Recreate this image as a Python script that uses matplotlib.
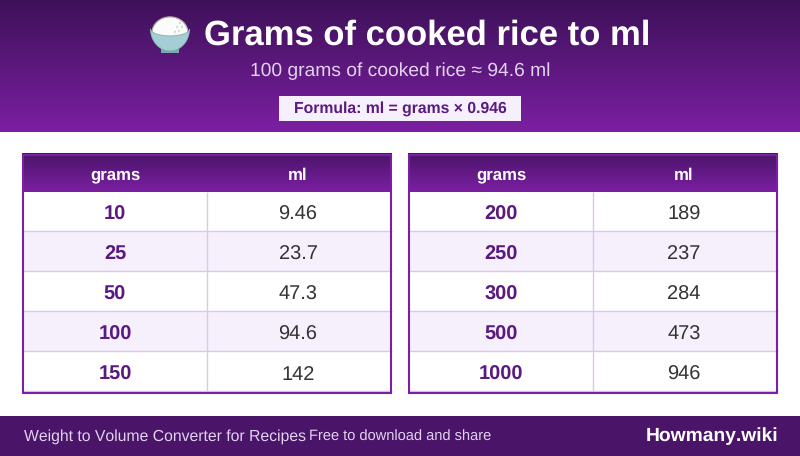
import numpy as np
import matplotlib
matplotlib.use('Agg')
import matplotlib.pyplot as plt
from matplotlib.colors import LinearSegmentedColormap
from matplotlib.patches import Rectangle, Ellipse, Polygon, Circle

title = "Grams of cooked rice to ml"
subtitle = "100 grams of cooked rice \u2248 94.6 ml"
formula = "Formula: ml = grams \u00d7 0.946"
footer_left = "Weight to Volume Converter for Recipes"
footer_mid = "Free to download and share"
footer_right = "Howmany.wiki"
col_names = ["grams", "ml"]

grams_left = ["10", "25", "50", "100", "150"]
ml_left = ["9.46", "23.7", "47.3", "94.6", "142"]
grams_right = ["200", "250", "300", "500", "1000"]
ml_right = ["189", "237", "284", "473", "946"]

DARK = "#3d1158"
MID = "#4a1569"
PURPLE = "#7b1fa2"
TEXT_PURPLE = "#5b1a80"
LIGHT = "#f5f0fb"
LINE = "#dcc6ee"

plt.rcParams['font.family'] = ['Liberation Sans', 'DejaVu Sans']
plt.rcParams['text.kerning_factor'] = 6
plt.rcParams['text.hinting'] = 'no_hinting'


def px(size):
    # css pixels to points at dpi 100
    return size * 0.72


def gradient(ax, x0, x1, y0, y1, c0, c1):
    cmap = LinearSegmentedColormap.from_list("g", [c0, c1])
    g = np.linspace(0, 1, 256).reshape(-1, 1)
    ax.imshow(g, cmap=cmap, extent=(x0, x1, y1, y0), aspect='auto', zorder=1,
              interpolation='bilinear')


def draw_table(ax, x0, grams, ml):
    width = 370
    split = x0 + 185
    top = 154
    head = 38
    row_h = 40
    bottom = top + head + row_h * len(grams) + 2
    gradient(ax, x0, x0 + width, top, top + head, MID, PURPLE)
    ax.text(x0 + 93, top + 25.7, col_names[0], color="white", fontsize=px(16.8),
            fontweight='bold', ha='center', va='baseline', zorder=4)
    ax.text(split + 91, top + 25.7, col_names[1], color="white", fontsize=px(16.8),
            fontweight='bold', ha='center', va='baseline', zorder=4)
    for i in range(len(grams)):
        y = top + head + i * row_h
        ax.add_patch(Rectangle((x0, y), width, row_h, zorder=2, lw=0,
                               fc=LIGHT if i % 2 else "white"))
        ax.plot([x0, x0 + width], [y + row_h - 0.5] * 2, color=LINE, lw=1.0, zorder=3,
                solid_capstyle='butt')
        ax.plot([split, split], [y, y + row_h], color=LINE, lw=1.0, zorder=3,
                solid_capstyle='butt')
        ax.text(x0 + 93, y + 27.5, grams[i], color=TEXT_PURPLE, fontsize=px(20),
                fontweight='bold', ha='center', va='baseline', zorder=4)
        ax.text(split + 91, y + 27.5, ml[i], color="#333333", fontsize=px(20),
                ha='center', va='baseline', zorder=4)
    # outer border
    ax.add_patch(Rectangle((x0 + 1, top + 1), width - 2, bottom - top - 2, fill=False,
                           ec=PURPLE, lw=1.5, zorder=5))


def draw_bowl(ax):
    # rice bowl emoji, the rim sags in front so more rice shows
    ax.add_patch(Ellipse((170, 33), 36, 32, fc="#fbfbfb", ec="#b5ad9e", lw=0.9, zorder=4))
    t = np.linspace(0, np.pi, 40)
    ax.add_patch(Rectangle((161, 48), 18, 5.5, fc="#79a8ad", lw=0, zorder=4))
    lower = np.column_stack([170 + 19.5 * np.cos(t), 29 + 22 * np.sin(t)])
    upper = np.column_stack([170 + 19.5 * np.cos(t[::-1]), 29 + 7 * np.sin(t[::-1])])
    ax.add_patch(Polygon(np.vstack([lower, upper]), fc="#a5cdd4", ec="#7fb0b5", lw=0.6, zorder=5))
    for cx, cy in [(180, 23), (177, 27), (182, 27), (175, 32), (179, 31)]:
        ax.add_patch(Ellipse((cx, cy), 1.6, 2.8, angle=30, fc="#cfcfcf", lw=0, zorder=6))


# 4.561 so the canvas does not floor down to 455 px
fig = plt.figure(figsize=(8, 4.561), dpi=100)
ax = fig.add_axes([0, 0, 1, 1])

# header band
gradient(ax, 0, 800, 0, 132, DARK, PURPLE)
draw_bowl(ax)
ax.text(427.5, 45, title, color="white", fontsize=px(34.7), fontweight='bold',
        ha='center', va='baseline', zorder=4)
ax.text(400, 76, subtitle, color="#e1d2ee", fontsize=px(19.3), ha='center', va='baseline', zorder=4)
ax.add_patch(Rectangle((279, 96), 242, 25, fc=LIGHT, lw=0, zorder=3))
ax.text(400, 113, formula, color=TEXT_PURPLE, fontsize=px(15.7), fontweight='bold',
        ha='center', va='baseline', zorder=4)

draw_table(ax, 22, grams_left, ml_left)
draw_table(ax, 408, grams_right, ml_right)

# footer band
ax.add_patch(Rectangle((0, 416), 800, 40, fc=MID, lw=0, zorder=2))
ax.text(24, 441, footer_left, color="#e1d2ee", fontsize=px(15.8), ha='left', va='baseline', zorder=4)
ax.text(309, 441, footer_mid, color="#e1d2ee", fontsize=px(14.6), ha='left', va='baseline', zorder=4)
ax.text(778, 441, footer_right, color="white", fontsize=px(19.3), fontweight='bold',
        ha='right', va='baseline', zorder=4)

ax.set_xlim(0, 800)
ax.set_ylim(456, 0)
ax.axis('off')
fig.savefig("out.png", dpi=100, facecolor="white")
